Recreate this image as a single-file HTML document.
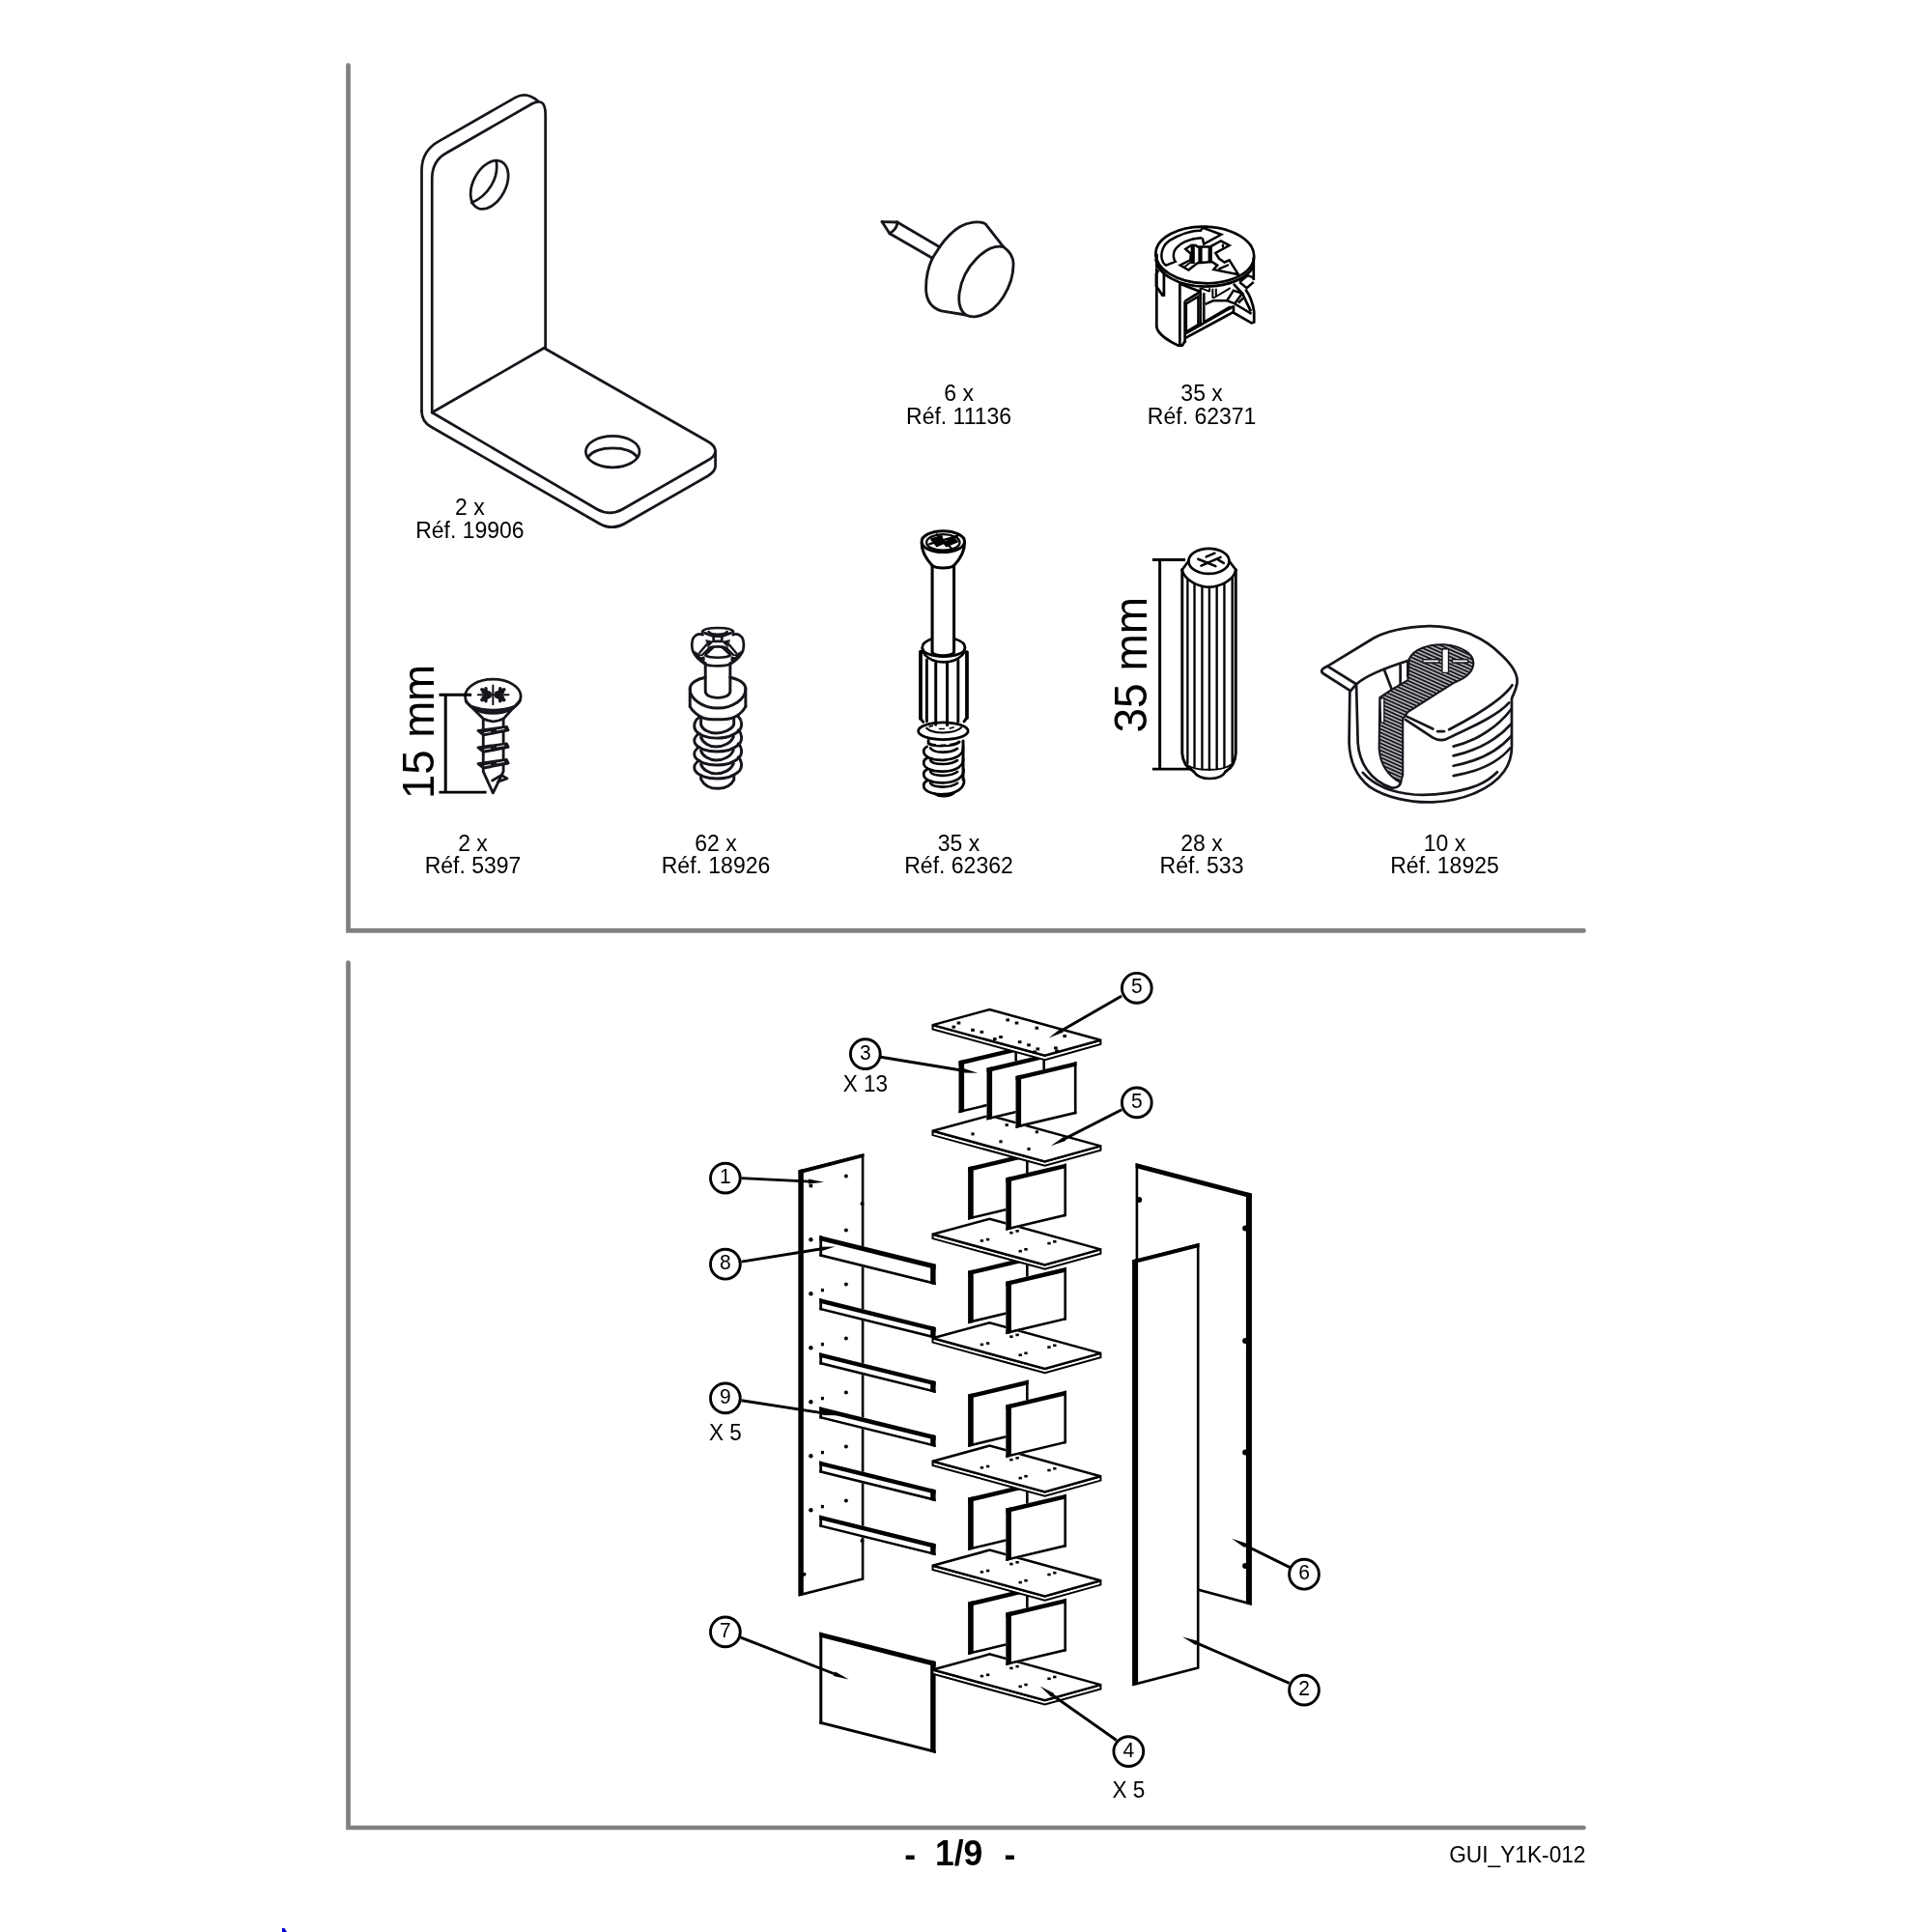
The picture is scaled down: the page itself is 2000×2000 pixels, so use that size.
<!DOCTYPE html>
<html><head><meta charset="utf-8"><title>1/9</title>
<style>
html,body{margin:0;padding:0;background:#fff;}
body{width:2000px;height:2000px;overflow:hidden;font-family:"Liberation Sans",sans-serif;}
svg{display:block;will-change:transform;}
text{font-family:"Liberation Sans",sans-serif;}
</style></head><body>
<svg width="2000" height="2000" viewBox="0 0 2000 2000">
<rect width="2000" height="2000" fill="#fff"/>
<!-- frame -->
<g fill="none" stroke="#808080" stroke-width="4.7" stroke-linecap="round" stroke-linejoin="miter">
<path d="M360.5 67.5 V963.4 H1639.5"/>
<path d="M360.5 996.6 V1892 H1639.5"/>
</g>
<path d="M292 1996 L294.5 1996 L297 2000 L292 2000 Z" fill="#0000d0"/>

<!-- text -->
<g fill="#000">
<text transform="translate(486.4,533) scale(1,1.035)" font-size="23" text-anchor="middle">2 x</text>
<text transform="translate(486.4,556.7) scale(1,1.035)" font-size="23" text-anchor="middle">Réf. 19906</text>
<text transform="translate(992.6,415) scale(1,1.035)" font-size="23" text-anchor="middle">6 x</text>
<text transform="translate(992.6,438.8) scale(1,1.035)" font-size="23" text-anchor="middle">Réf. 11136</text>
<text transform="translate(1244.1,415) scale(1,1.035)" font-size="23" text-anchor="middle">35 x</text>
<text transform="translate(1244.1,438.8) scale(1,1.035)" font-size="23" text-anchor="middle">Réf. 62371</text>
<text transform="translate(489.5,880.7) scale(1,1.035)" font-size="23" text-anchor="middle">2 x</text>
<text transform="translate(489.5,904) scale(1,1.035)" font-size="23" text-anchor="middle">Réf. 5397</text>
<text transform="translate(741,880.7) scale(1,1.035)" font-size="23" text-anchor="middle">62 x</text>
<text transform="translate(741,904) scale(1,1.035)" font-size="23" text-anchor="middle">Réf. 18926</text>
<text transform="translate(992.5,880.7) scale(1,1.035)" font-size="23" text-anchor="middle">35 x</text>
<text transform="translate(992.5,904) scale(1,1.035)" font-size="23" text-anchor="middle">Réf. 62362</text>
<text transform="translate(1244,880.7) scale(1,1.035)" font-size="23" text-anchor="middle">28 x</text>
<text transform="translate(1244,904) scale(1,1.035)" font-size="23" text-anchor="middle">Réf. 533</text>
<text transform="translate(1495.5,880.7) scale(1,1.035)" font-size="23" text-anchor="middle">10 x</text>
<text transform="translate(1495.5,904) scale(1,1.035)" font-size="23" text-anchor="middle">Réf. 18925</text>
<text transform="translate(449.3,827) rotate(-90) scale(1,1.03)" font-size="45.5">15 mm</text>
<text transform="translate(1186.7,758.5) rotate(-90) scale(1,1.03)" font-size="46">35 mm</text>
<text transform="translate(936.2,1931.5) scale(1,1.05)" font-size="35.5" text-anchor="start" font-weight="bold">-</text>
<text transform="translate(968.0,1930.8) scale(1,1.06)" font-size="35.5" text-anchor="start" font-weight="bold">1/9</text>
<text transform="translate(1039.5,1931.5) scale(1,1.05)" font-size="35.5" text-anchor="start" font-weight="bold">-</text>
<text transform="translate(1641.5,1927.6) scale(1,1.035)" font-size="22.7" text-anchor="end">GUI_Y1K-012</text>
</g>
<!-- bracket -->
<g transform="translate(340,40) scale(0.289855)" fill="none" stroke="#15151c" stroke-width="9.4" stroke-linecap="round" stroke-linejoin="round">
<!-- outer back edge -->
<path d="M333 1330 V470 Q333 400 395 366 L668 210 Q708 188 748 223"/>
<!-- front face -->
<path d="M370 1335 V500 Q370 436 422 408 L728 232 Q775 208 775 270 V1105"/>
<!-- fold lines -->
<path d="M770 1105 L370 1335"/>
<path d="M770 1105 L1352 1437 Q1381 1453 1382 1472 V1527 Q1381 1546 1355 1562 L1058 1732 Q1012 1758 966 1731 L366 1386 Q333 1368 333 1330"/>
<!-- top face of bottom plate -->
<path d="M370 1335 L960 1681 Q1005 1706 1050 1681 L1355 1506 Q1378 1493 1381 1478"/>
<!-- holes -->
<ellipse cx="575" cy="522" rx="93" ry="58" transform="rotate(-62 575 522)"/>
<path d="M600 440 C608 500 570 560 512 586"/>
<ellipse cx="1015" cy="1475" rx="96" ry="56"/>
<path d="M926 1495 C960 1452 1070 1452 1104 1495"/>
</g>

<!-- glide -->
<g transform="translate(900,210) scale(0.093168)" fill="none" stroke="#15151c" stroke-width="30.5" stroke-linecap="round" stroke-linejoin="round">
<path d="M140 210 L310 215 L780 490"/>
<path d="M140 210 L225 340 L700 615"/>
<path d="M310 215 Q310 290 225 340"/>
<path d="M780 490 L700 615"/>
<path d="M780 490 C850 390 930 310 1005 265 C1090 215 1225 195 1290 235 L1490 490 C1560 540 1600 600 1600 680 C1600 800 1560 930 1490 1040 C1420 1150 1310 1250 1170 1265 C1130 1268 1100 1260 1070 1245 L800 1200 C700 1170 640 1100 630 980 C625 860 650 720 700 615"/>
<path d="M1490 490 C1400 470 1290 520 1190 620 C1090 720 1020 860 1000 1000 C985 1110 1010 1200 1070 1245"/>
</g>

<!-- camhousing -->
<g transform="translate(1190,228) scale(0.062112)" fill="none" stroke="#000" stroke-width="44" stroke-linecap="butt" stroke-linejoin="miter">
<!-- top rim -->
<ellipse cx="922" cy="578" rx="820" ry="472" transform="rotate(2 922 578)"/>
<path d="M105 640 C130 900 480 1103 922 1103 C1280 1103 1600 990 1730 780"/>
<path d="M120 560 V800"/>
<path d="M1735 620 V1000"/>
<!-- arrow band -->
<path d="M870 168 C700 172 500 235 330 340 C215 420 180 560 210 660 C225 710 250 740 275 752 L430 690 C395 650 390 560 420 500 C480 400 650 300 870 292" stroke-width="40"/>
<path d="M870 168 V118 L1195 238 L905 395 L880 292" stroke-width="40"/>
<!-- centre H -->
<path d="M600 480 L700 415 L770 418 L800 442 L1010 442 L1190 345 L1330 420 L1100 545 L1160 640 L1250 700 L1330 665 L1480 905 L1070 820 L1130 750 L1040 692 L800 712 L650 830 L510 750 L680 660 L690 560 Z" stroke-width="40"/>
<path d="M720 430 V725 M845 440 V725 M1010 440 V705" stroke-width="68"/>
<path d="M1222 395 V455 M1150 815 L1320 740" stroke-width="36"/>
<path d="M580 780 L700 690" stroke-width="30"/>
<!-- body left -->
<path d="M118 800 V1780 C140 1900 330 2020 480 2088 L545 2088 L600 2000"/>
<path d="M150 830 L112 900 V1100 L215 1250 H240 V860" />
<!-- front cut -->
<path d="M505 1050 V2090"/>
<path d="M505 1060 L850 1190"/>
<path d="M590 1350 V2040 M590 1350 L835 1200"/>
<path d="M610 1392 L812 1272 V1740 L610 1860 Z" stroke-width="40"/>
<path d="M848 1130 V1765" stroke-width="40"/>
<path d="M600 1890 L1385 1440 M600 1962 L1400 1528"/>
<path d="M905 1210 V1700 L1345 1445"/>
<path d="M850 1130 L1000 1185 M1000 1130 V1195 M1052 1140 V1300 M1108 1140 V1270 M1060 1300 L1345 1130" stroke-width="32"/>
<path d="M930 1400 L1060 1342 H1290" stroke-width="40"/>
<!-- right tab and spike -->
<path d="M1500 1030 L1640 920 L1735 960 M1500 1030 L1620 1130 L1735 1030" stroke-width="40"/>
<path d="M1400 1060 L1545 1220 L1690 1520"/>
<path d="M1290 1340 L1400 1170 L1545 1220 L1420 1390 Z" stroke-width="40"/>
<path d="M1400 1420 V1540 L1700 1712 L1742 1700 V1520 C1720 1380 1680 1260 1600 1150"/>
<path d="M1420 1392 L1700 1560 M1480 1380 L1560 1300" stroke-width="40"/>
</g>

<!-- screw -->
<g transform="translate(400,660) scale(0.134575)" fill="none" stroke="#000" stroke-linecap="butt" stroke-linejoin="miter">
<g stroke="#15151c" stroke-width="21" stroke-linejoin="round" stroke-linecap="round">
<ellipse cx="820" cy="452" rx="214" ry="131"/>
<path d="M645 520 Q820 625 995 520 Q820 585 645 520 Z" fill="#15151c" stroke-width="8"/>
<path d="M612 492 L745 625 Q822 665 900 625 L1030 482"/>
<path d="M745 625 V1030 L820 1195 L900 1030 V625"/>
<path d="M706 716 L925 686 L937 712 L748 750 Z" fill="#15151c"/>
<path d="M706 846 L925 816 L937 842 L748 880 Z" fill="#15151c"/>
<path d="M706 970 L925 940 L937 966 L748 1004 Z" fill="#15151c"/>
<path d="M755 733 L800 726 M850 712 L905 703 M755 861 L800 854 M850 840 L905 831 M755 986 L800 979 M850 965 L905 956" stroke="#fff" stroke-width="7"/>
<path d="M815 1100 L885 1058 L928 1085 L860 1108" />
<!-- cross recess -->
<path d="M705 440 H940 M820 368 V515" stroke-width="15"/>
<path d="M735 400 L795 428 M735 480 L795 452 M905 400 L845 428 M905 480 L845 452 M765 392 V488 M875 392 V488 M745 420 L790 440 L745 462 M895 420 L850 440 L895 462" stroke-width="26"/>
</g>
<!-- dimension -->
<path d="M405 440 H655 M455 440 V1190 M405 1190 H770" stroke-width="22"/>
</g>

<!-- bolt18926 -->
<g transform="translate(680,630) scale(0.108696)" fill="none" stroke="#15151c" stroke-width="27" stroke-linecap="round" stroke-linejoin="round">
<!-- head -->
<g transform="translate(184,92) scale(0.42851)" stroke-width="58">
<path d="M585 300 C600 240 760 215 925 215 C1090 215 1250 240 1265 300"/>
<path d="M585 290 V365 M1265 290 V365"/>
<path d="M720 300 C780 380 1070 380 1130 300"/>
<path d="M585 365 C520 335 440 360 385 430 C340 500 340 640 370 730 C410 830 520 940 630 1010 C720 1075 1130 1075 1215 1010 C1330 940 1440 830 1480 730 C1510 640 1510 500 1465 430 C1410 360 1330 335 1265 365"/>
<path d="M830 400 H1015 V512 H830 Z"/>
<path d="M640 330 L830 400 M1210 330 L1015 400"/>
<path d="M665 485 L825 520 L705 640 Z M1185 485 L1020 520 L1145 640 Z" fill="#15151c" stroke-width="16"/>
<path d="M730 665 C800 620 1050 620 1125 670 M650 830 C760 890 1090 890 1200 830"/>
<path d="M830 640 L660 800 M1020 640 L1190 800"/>
<path d="M520 770 L670 590 M1330 770 L1180 590 M530 860 L720 680 M1320 860 L1130 680" stroke-width="50"/>
<path d="M370 720 L520 930 L625 1000 L630 870 L520 800 Z M1480 720 L1330 930 L1225 1000 L1220 870 L1330 800 Z" fill="#15151c" stroke-width="14"/>
<path d="M540 850 h40 M1270 850 h40" stroke="#fff" stroke-width="22"/>
</g>
<!-- neck -->
<path d="M462 520 V790 C470 870 690 870 698 790 V520"/>
<!-- collar + threads (traced) -->
<g transform="translate(184,828) scale(0.5239)" stroke-width="52">
<path d="M530 -330 C380 -300 250 -225 250 -120 V200 M980 -330 C1130 -300 1262 -225 1262 -120 V200"/>
<path d="M250 -120 C250 60 480 230 756 230 C1030 230 1262 60 1262 -120"/>
<path d="M250 200 C300 300 420 380 500 410 C600 445 900 445 1010 410 C1100 380 1210 300 1262 200"/>
<path d="M420 395 C340 440 310 540 345 620 C400 720 560 775 740 775 C920 775 1080 710 1160 620 C1200 560 1200 450 1130 385"/>
<path d="M450 410 V530 C480 620 600 685 720 685 C860 685 1010 620 1048 530 V410"/>
<path d="M420 690 C340 735 310 805 345 875 C400 965 560 1020 740 1020 C920 1020 1080 955 1160 865 C1200 805 1200 695 1130 630"/>
<path d="M450 760 C480 855 600 930 720 930 C860 930 1000 865 1042 745"/>
<path d="M420 935 C340 980 310 1050 345 1120 C400 1210 560 1265 740 1265 C920 1265 1080 1200 1160 1110 C1200 1050 1200 940 1130 875"/>
<path d="M450 1005 C480 1100 600 1175 720 1175 C860 1175 1000 1110 1042 990"/>
<path d="M420 1180 C340 1225 310 1295 345 1365 C400 1455 560 1510 740 1510 C920 1510 1080 1445 1160 1355 C1200 1295 1200 1185 1130 1120"/>
<path d="M450 1250 C480 1345 600 1420 720 1420 C860 1420 1000 1355 1042 1235"/>
<path d="M450 1450 V1520 C500 1620 600 1692 760 1692 C900 1692 1010 1620 1050 1530 V1455"/>
</g>
</g>

<!-- bolt62362 -->
<g transform="translate(920,530) scale(0.165631)" fill="none" stroke="#000" stroke-width="18.5" stroke-linecap="round" stroke-linejoin="round">
<!-- head -->
<ellipse cx="340" cy="185" rx="134" ry="66"/>
<ellipse cx="340" cy="190" rx="104" ry="50" stroke-width="14"/>
<path d="M206 195 C206 240 225 285 272 335 M474 195 C474 240 455 285 408 335"/>

<path d="M272 335 C300 355 380 355 408 335"/>
<!-- cross on head -->
<path d="M265 170 L330 150 L345 195 L300 215 Z M345 195 L400 160 L430 185 L360 215 Z" fill="#000" stroke-width="10"/>
<path d="M255 200 L430 150 M300 140 L390 225" stroke-width="13"/>
<!-- shaft -->
<path d="M272 340 V878 C290 906 390 906 408 878 V340"/>
</g>
<g transform="translate(940,650) scale(0.09833)" fill="none" stroke="#000" stroke-width="27" stroke-linecap="round" stroke-linejoin="round">
<!-- sleeve top -->
<path d="M245 118 C190 138 150 170 150 208 C150 262 250 302 375 302 C500 302 600 262 600 208 C600 170 560 138 495 118"/>
<path d="M150 208 C152 240 162 265 180 285 C230 338 300 360 375 360 C450 360 520 338 570 285 C588 265 598 240 600 208" stroke-width="26"/>
<path d="M132 250 V955 M620 255 V945" stroke-width="38"/>
<path d="M150 250 L180 285 M600 250 L572 285" stroke-width="22"/>
<path d="M197 335 V985 M292 372 V1020 M412 372 V1025 M527 340 V990" stroke-width="30"/>
<path d="M132 955 L160 990 M620 945 L590 985" stroke-width="30"/>
<!-- flange -->
<ellipse cx="370" cy="1085" rx="262" ry="90" stroke-width="28"/>
<path d="M195 1055 C260 1120 480 1120 560 1050" stroke-width="22"/>
<path d="M225 1040 L260 1030 M330 1062 H380 M440 1058 L480 1048" stroke-width="16"/>
<!-- coils -->
<path d="M215 1185 V1215 C260 1250 480 1250 540 1200 M580 1190 V1600" stroke-width="30"/>
<path d="M300 1225 H340 M400 1225 H430" stroke="#fff" stroke-width="10"/>
<path d="M200 1250 C150 1275 150 1330 215 1365 C300 1405 450 1400 530 1350 C570 1322 585 1290 580 1250"/>
<path d="M235 1265 C270 1320 440 1325 520 1270"/>
<path d="M200 1370 C150 1395 150 1450 215 1485 C300 1525 450 1520 530 1470 C570 1442 585 1410 580 1370"/>
<path d="M235 1395 C270 1445 440 1450 520 1395"/>
<path d="M200 1490 C150 1515 150 1570 215 1605 C300 1645 450 1640 530 1590 C570 1562 590 1530 585 1490"/>
<path d="M235 1515 C270 1565 440 1570 520 1515"/>
<path d="M200 1610 C150 1635 150 1690 215 1725 C300 1765 450 1760 530 1710 C570 1682 595 1650 590 1600"/>
<path d="M235 1635 C270 1685 440 1690 520 1635"/>
<path d="M280 1745 C330 1780 420 1780 480 1740" stroke-width="30"/>
</g>

<!-- dowel -->
<g transform="translate(1130,550) scale(0.15528)" fill="none" stroke="#000" stroke-linecap="butt" stroke-linejoin="round">
<path d="M405 190 H625 M455 190 V1585 M405 1585 H670" stroke-width="19"/>
<g stroke="#000" stroke-width="17" stroke-linecap="round">
<!-- top ellipse -->
<ellipse cx="782" cy="199" rx="135" ry="84"/>
<path d="M648 196 L604 256 M916 196 L961 256"/>
<path d="M603 258 C620 330 720 372 782 372 C850 372 945 330 962 258"/>
<!-- sides -->
<path d="M604 256 V1480 C608 1540 640 1580 680 1600 M961 256 V1480 C957 1540 930 1580 895 1600" stroke-width="19"/>
<path d="M680 1600 C720 1665 860 1665 895 1600"/>
<path d="M640 1560 C700 1600 870 1600 930 1555" stroke-width="12"/>
<!-- ribs -->
<path d="M640 322 V1545 M686 350 V1570 M737 366 V1585 M785 372 V1590 M835 368 V1585 M885 352 V1572 M938 310 V1540" stroke-width="15"/>
<!-- cross -->
<path d="M710 185 L827 233 M731 230 L860 173 M764 170 L821 146 M845 191 L881 212" stroke-width="16"/>
</g>
</g>

<!-- cam18925 -->
<defs>
<pattern id="hatch" width="26" height="26" patternUnits="userSpaceOnUse" patternTransform="rotate(24)">
<rect width="26" height="26" fill="#15151c"/>
<path d="M0 13 H26" stroke="#fff" stroke-width="8.5"/>
</pattern>
</defs>
<g transform="translate(1350,620) scale(0.1294)" fill="none" stroke="#15151c" stroke-width="21" stroke-linecap="round" stroke-linejoin="round">
<!-- outer top edge -->
<path d="M188 538 L557 313 C640 265 800 222 1000 217 C1200 214 1420 290 1570 440 C1680 540 1720 620 1700 690"/>
<!-- lip -->
<path d="M188 538 Q120 565 150 595 L370 735"/>
<path d="M190 540 L418 682 L372 735"/>
<!-- inner top edge of opening -->
<path d="M418 682 C500 610 640 555 830 495"/>
<path d="M640 565 L700 720 M770 530 V690 M830 495 V620"/>
<!-- left outer side + bottom -->
<path d="M366 735 L360 1150 C365 1300 420 1420 520 1500 C650 1590 850 1632 1030 1626 C1280 1615 1500 1520 1600 1380 C1650 1310 1665 1230 1661 1150 V800 C1668 770 1692 740 1700 690"/>
<path d="M418 690 L430 1150 C440 1300 520 1450 700 1512 C740 1515 770 1495 775 1460"/>

<path d="M470 1390 C560 1490 700 1550 880 1565 C1050 1575 1250 1545 1390 1490 C1460 1460 1510 1420 1545 1385"/>
<!-- hatched region -->
<path d="M840 480 C880 400 1000 360 1120 365 C1260 375 1360 440 1355 520 C1350 590 1280 640 1200 670 L830 905 L790 960 V1410 L770 1470 C680 1420 610 1330 600 1200 L605 790 L700 725 L830 650 Z" fill="url(#hatch)" stroke-width="16"/>
<path d="M1105 400 h50 v190 h-50 z M950 485 h130 v25 h-130 z M1185 485 h125 v25 h-125 z" fill="#fff" stroke-width="10"/>
<path d="M610 800 L640 790 V990 H615 Z" fill="#fff" stroke-width="10"/>
<!-- top face lower right edge -->
<path d="M1665 690 C1600 790 1400 920 1160 1045"/>
<path d="M1068 1060 H1120"/>
<path d="M1030 1040 L820 940"/>
<path d="M810 965 L1030 1110 C1090 1145 1130 1130 1165 1108 C1400 1000 1560 920 1640 830"/>

<!-- threads -->
<path d="M1195 1180 C1400 1130 1560 1010 1655 885"/>
<path d="M1195 1255 C1400 1210 1560 1110 1655 1002"/>
<path d="M1195 1335 C1400 1295 1560 1210 1655 1098"/>
<path d="M1195 1415 C1400 1380 1560 1300 1648 1194"/>
</g>

<!-- diagram -->
<g stroke-linejoin="miter">
<path d="M827.9 1212.8 L893.1 1195.7 L893.1 1634.4 L827.9 1651.1 Z" fill="#fff" stroke="#000" stroke-width="2.6" />
<path d="M826.6 1211.3 L831.8 1210 L831.8 1651 L826.6 1652.3 Z" fill="#000" stroke="none"/>
<path d="M826.6 1211.3 L894.4 1194.2 L894.4 1197.8 L826.6 1215.5 Z" fill="#000" stroke="none"/>
<circle cx="875.9" cy="1217.5" r="2.0" fill="#000"/>
<circle cx="875.9" cy="1273.5" r="2.0" fill="#000"/>
<circle cx="875.9" cy="1329.5" r="2.0" fill="#000"/>
<circle cx="875.9" cy="1385.5" r="2.0" fill="#000"/>
<circle cx="875.9" cy="1441.5" r="2.0" fill="#000"/>
<circle cx="875.9" cy="1497.5" r="2.0" fill="#000"/>
<circle cx="875.9" cy="1553.5" r="2.0" fill="#000"/>
<circle cx="839.4" cy="1283.2" r="2.2" fill="#000"/>
<circle cx="839.4" cy="1339.2" r="2.2" fill="#000"/>
<circle cx="839.4" cy="1395.2" r="2.2" fill="#000"/>
<circle cx="839.4" cy="1451.2" r="2.2" fill="#000"/>
<circle cx="839.4" cy="1507.2" r="2.2" fill="#000"/>
<circle cx="839.4" cy="1563.2" r="2.2" fill="#000"/>
<rect x="849.9" y="1333.9" width="3" height="3.4" fill="#000"/>
<rect x="849.9" y="1389.9" width="3" height="3.4" fill="#000"/>
<rect x="849.9" y="1445.9" width="3" height="3.4" fill="#000"/>
<rect x="849.9" y="1501.9" width="3" height="3.4" fill="#000"/>
<rect x="849.9" y="1557.9" width="3" height="3.4" fill="#000"/>
<circle cx="892.5" cy="1246" r="2.0" fill="#000"/>
<circle cx="892.5" cy="1594.9" r="2.0" fill="#000"/>
<circle cx="832.5" cy="1629.8" r="2.0" fill="#000"/>
<rect x="837.6" y="1225.7" width="3.6" height="3.6" fill="#000"/>
<path d="M848.3 1278.9 L968.6 1308.7 L968.6 1330.3 L848.3 1300.5 Z" fill="#fff" stroke="none"/>
<path d="M848.3 1278.9 L968.6 1308.7 L968.6 1313.9 L848.3 1284.1 Z" fill="#000" stroke="none"/>
<path d="M963.2 1307.4 L968.6 1308.7 L968.6 1330.3 L963.2 1329 Z" fill="#000" stroke="none"/>
<path d="M848.3 1278.9 L851.1 1279.6 L851.1 1301.2 L848.3 1300.5 Z" fill="#000" stroke="none"/>
<path d="M848.3 1297.7 L968.6 1327.5 L968.6 1330.3 L848.3 1300.5 Z" fill="#000" stroke="none"/>
<path d="M848.3 1344.1 L968.6 1373.9 L968.6 1385.9 L848.3 1356.1 Z" fill="#fff" stroke="none"/>
<path d="M848.3 1344.1 L968.6 1373.9 L968.6 1378.5 L848.3 1348.7 Z" fill="#000" stroke="none"/>
<path d="M963.2 1372.6 L968.6 1373.9 L968.6 1385.9 L963.2 1384.6 Z" fill="#000" stroke="none"/>
<path d="M848.3 1344.1 L851.1 1344.8 L851.1 1356.8 L848.3 1356.1 Z" fill="#000" stroke="none"/>
<path d="M848.3 1353.5 L968.6 1383.3 L968.6 1385.9 L848.3 1356.1 Z" fill="#000" stroke="none"/>
<path d="M848.3 1400.2 L968.6 1430 L968.6 1442 L848.3 1412.2 Z" fill="#fff" stroke="none"/>
<path d="M848.3 1400.2 L968.6 1430 L968.6 1434.6 L848.3 1404.8 Z" fill="#000" stroke="none"/>
<path d="M963.2 1428.7 L968.6 1430 L968.6 1442 L963.2 1440.7 Z" fill="#000" stroke="none"/>
<path d="M848.3 1400.2 L851.1 1400.9 L851.1 1412.9 L848.3 1412.2 Z" fill="#000" stroke="none"/>
<path d="M848.3 1409.6 L968.6 1439.4 L968.6 1442 L848.3 1412.2 Z" fill="#000" stroke="none"/>
<path d="M848.3 1456.3 L968.6 1486.1 L968.6 1498.1 L848.3 1468.3 Z" fill="#fff" stroke="none"/>
<path d="M848.3 1456.3 L968.6 1486.1 L968.6 1490.7 L848.3 1460.9 Z" fill="#000" stroke="none"/>
<path d="M963.2 1484.8 L968.6 1486.1 L968.6 1498.1 L963.2 1496.8 Z" fill="#000" stroke="none"/>
<path d="M848.3 1456.3 L851.1 1457 L851.1 1469 L848.3 1468.3 Z" fill="#000" stroke="none"/>
<path d="M848.3 1465.7 L968.6 1495.5 L968.6 1498.1 L848.3 1468.3 Z" fill="#000" stroke="none"/>
<path d="M848.3 1512.4 L968.6 1542.2 L968.6 1554.2 L848.3 1524.4 Z" fill="#fff" stroke="none"/>
<path d="M848.3 1512.4 L968.6 1542.2 L968.6 1546.8 L848.3 1517 Z" fill="#000" stroke="none"/>
<path d="M963.2 1540.9 L968.6 1542.2 L968.6 1554.2 L963.2 1552.9 Z" fill="#000" stroke="none"/>
<path d="M848.3 1512.4 L851.1 1513.1 L851.1 1525.1 L848.3 1524.4 Z" fill="#000" stroke="none"/>
<path d="M848.3 1521.8 L968.6 1551.6 L968.6 1554.2 L848.3 1524.4 Z" fill="#000" stroke="none"/>
<path d="M848.3 1568.5 L968.6 1598.3 L968.6 1610.3 L848.3 1580.5 Z" fill="#fff" stroke="none"/>
<path d="M848.3 1568.5 L968.6 1598.3 L968.6 1602.9 L848.3 1573.1 Z" fill="#000" stroke="none"/>
<path d="M963.2 1597 L968.6 1598.3 L968.6 1610.3 L963.2 1609 Z" fill="#000" stroke="none"/>
<path d="M848.3 1568.5 L851.1 1569.2 L851.1 1581.2 L848.3 1580.5 Z" fill="#000" stroke="none"/>
<path d="M848.3 1577.9 L968.6 1607.7 L968.6 1610.3 L848.3 1580.5 Z" fill="#000" stroke="none"/>
<path d="M848.3 1689.4 L968.6 1720 L968.6 1815 L848.3 1784.4 Z" fill="#fff" stroke="none"/>
<path d="M848.3 1689.4 L968.6 1720 L968.6 1725.2 L848.3 1694.6 Z" fill="#000" stroke="none"/>
<path d="M963.2 1718.6 L968.6 1720 L968.6 1815 L963.2 1813.6 Z" fill="#000" stroke="none"/>
<path d="M848.3 1689.4 L851.3 1690.2 L851.3 1785.2 L848.3 1784.4 Z" fill="#000" stroke="none"/>
<path d="M848.3 1781.4 L968.6 1812 L968.6 1815 L848.3 1784.4 Z" fill="#000" stroke="none"/>
<path d="M965.5 1728.5 L1081.6 1760.2 L1139.4 1744.1 L1139.4 1748.4 L1081.6 1764.5 L965.5 1732.8 Z" fill="#fff" stroke="#000" stroke-width="2.0" stroke-miterlimit="2"/>
<path d="M965.5 1728.5 L1024.5 1712.4 L1139.4 1744.1 L1081.6 1760.2 Z" fill="#fff" stroke="#000" stroke-width="2.5" stroke-miterlimit="2"/>
<rect x="1045.2" y="1725.6" width="3.4" height="2.6" fill="#000"/>
<rect x="1051.4" y="1723.8" width="3.4" height="2.6" fill="#000"/>
<rect x="1014.7" y="1733.8" width="3.4" height="2.6" fill="#000"/>
<rect x="1020.9" y="1732.5" width="3.4" height="2.6" fill="#000"/>
<rect x="1084.3" y="1736.5" width="3.4" height="2.6" fill="#000"/>
<rect x="1090.1" y="1734.7" width="3.4" height="2.6" fill="#000"/>
<rect x="1054.5" y="1744.6" width="3.4" height="2.6" fill="#000"/>
<rect x="1060.3" y="1742.7" width="3.4" height="2.6" fill="#000"/>
<path d="M1002.1 1658.6 L1064.6 1643.7 L1064.6 1698.2 L1002.1 1713.1 Z" fill="#fff" stroke="none"/>
<path d="M1002.1 1658.6 L1007.7 1657.3 L1007.7 1711.8 L1002.1 1713.1 Z" fill="#000" stroke="none"/>
<path d="M1002.1 1658.6 L1064.6 1643.7 L1064.6 1648.3 L1002.1 1663.2 Z" fill="#000" stroke="none"/>
<path d="M1062 1644.3 L1064.6 1643.7 L1064.6 1698.2 L1062 1698.8 Z" fill="#000" stroke="none"/>
<path d="M1002.1 1710.5 L1064.6 1695.6 L1064.6 1698.2 L1002.1 1713.1 Z" fill="#000" stroke="none"/>
<path d="M1041.3 1669.6 L1104 1654.7 L1104 1709.2 L1041.3 1724.1 Z" fill="#fff" stroke="none"/>
<path d="M1041.3 1669.6 L1046.9 1668.3 L1046.9 1722.8 L1041.3 1724.1 Z" fill="#000" stroke="none"/>
<path d="M1041.3 1669.6 L1104 1654.7 L1104 1659.3 L1041.3 1674.2 Z" fill="#000" stroke="none"/>
<path d="M1101.4 1655.3 L1104 1654.7 L1104 1709.2 L1101.4 1709.8 Z" fill="#000" stroke="none"/>
<path d="M1041.3 1721.5 L1104 1706.6 L1104 1709.2 L1041.3 1724.1 Z" fill="#000" stroke="none"/>
<path d="M965.5 1620.7 L1081.6 1652.4 L1139.4 1636.3 L1139.4 1640.6 L1081.6 1656.7 L965.5 1625 Z" fill="#fff" stroke="#000" stroke-width="2.0" stroke-miterlimit="2"/>
<path d="M965.5 1620.7 L1024.5 1604.6 L1139.4 1636.3 L1081.6 1652.4 Z" fill="#fff" stroke="#000" stroke-width="2.5" stroke-miterlimit="2"/>
<rect x="1045.2" y="1617.8" width="3.4" height="2.6" fill="#000"/>
<rect x="1051.4" y="1616" width="3.4" height="2.6" fill="#000"/>
<rect x="1014.7" y="1626" width="3.4" height="2.6" fill="#000"/>
<rect x="1020.9" y="1624.7" width="3.4" height="2.6" fill="#000"/>
<rect x="1084.3" y="1628.7" width="3.4" height="2.6" fill="#000"/>
<rect x="1090.1" y="1626.9" width="3.4" height="2.6" fill="#000"/>
<rect x="1054.5" y="1636.8" width="3.4" height="2.6" fill="#000"/>
<rect x="1060.3" y="1634.9" width="3.4" height="2.6" fill="#000"/>
<path d="M1002.1 1550.6 L1064.6 1535.7 L1064.6 1590.2 L1002.1 1605.1 Z" fill="#fff" stroke="none"/>
<path d="M1002.1 1550.6 L1007.7 1549.3 L1007.7 1603.8 L1002.1 1605.1 Z" fill="#000" stroke="none"/>
<path d="M1002.1 1550.6 L1064.6 1535.7 L1064.6 1540.3 L1002.1 1555.2 Z" fill="#000" stroke="none"/>
<path d="M1062 1536.3 L1064.6 1535.7 L1064.6 1590.2 L1062 1590.8 Z" fill="#000" stroke="none"/>
<path d="M1002.1 1602.5 L1064.6 1587.6 L1064.6 1590.2 L1002.1 1605.1 Z" fill="#000" stroke="none"/>
<path d="M1041.3 1561.6 L1104 1546.7 L1104 1601.2 L1041.3 1616.1 Z" fill="#fff" stroke="none"/>
<path d="M1041.3 1561.6 L1046.9 1560.3 L1046.9 1614.8 L1041.3 1616.1 Z" fill="#000" stroke="none"/>
<path d="M1041.3 1561.6 L1104 1546.7 L1104 1551.3 L1041.3 1566.2 Z" fill="#000" stroke="none"/>
<path d="M1101.4 1547.3 L1104 1546.7 L1104 1601.2 L1101.4 1601.8 Z" fill="#000" stroke="none"/>
<path d="M1041.3 1613.5 L1104 1598.6 L1104 1601.2 L1041.3 1616.1 Z" fill="#000" stroke="none"/>
<path d="M965.5 1512.7 L1081.6 1544.4 L1139.4 1528.3 L1139.4 1532.6 L1081.6 1548.7 L965.5 1517 Z" fill="#fff" stroke="#000" stroke-width="2.0" stroke-miterlimit="2"/>
<path d="M965.5 1512.7 L1024.5 1496.6 L1139.4 1528.3 L1081.6 1544.4 Z" fill="#fff" stroke="#000" stroke-width="2.5" stroke-miterlimit="2"/>
<rect x="1045.2" y="1509.8" width="3.4" height="2.6" fill="#000"/>
<rect x="1051.4" y="1508" width="3.4" height="2.6" fill="#000"/>
<rect x="1014.7" y="1518" width="3.4" height="2.6" fill="#000"/>
<rect x="1020.9" y="1516.7" width="3.4" height="2.6" fill="#000"/>
<rect x="1084.3" y="1520.7" width="3.4" height="2.6" fill="#000"/>
<rect x="1090.1" y="1518.9" width="3.4" height="2.6" fill="#000"/>
<rect x="1054.5" y="1528.8" width="3.4" height="2.6" fill="#000"/>
<rect x="1060.3" y="1526.9" width="3.4" height="2.6" fill="#000"/>
<path d="M1002.1 1443.5 L1064.6 1428.6 L1064.6 1483.1 L1002.1 1498 Z" fill="#fff" stroke="none"/>
<path d="M1002.1 1443.5 L1007.7 1442.2 L1007.7 1496.7 L1002.1 1498 Z" fill="#000" stroke="none"/>
<path d="M1002.1 1443.5 L1064.6 1428.6 L1064.6 1433.2 L1002.1 1448.1 Z" fill="#000" stroke="none"/>
<path d="M1062 1429.2 L1064.6 1428.6 L1064.6 1483.1 L1062 1483.7 Z" fill="#000" stroke="none"/>
<path d="M1002.1 1495.4 L1064.6 1480.5 L1064.6 1483.1 L1002.1 1498 Z" fill="#000" stroke="none"/>
<path d="M1041.3 1454.5 L1104 1439.6 L1104 1494.1 L1041.3 1509 Z" fill="#fff" stroke="none"/>
<path d="M1041.3 1454.5 L1046.9 1453.2 L1046.9 1507.7 L1041.3 1509 Z" fill="#000" stroke="none"/>
<path d="M1041.3 1454.5 L1104 1439.6 L1104 1444.2 L1041.3 1459.1 Z" fill="#000" stroke="none"/>
<path d="M1101.4 1440.2 L1104 1439.6 L1104 1494.1 L1101.4 1494.7 Z" fill="#000" stroke="none"/>
<path d="M1041.3 1506.4 L1104 1491.5 L1104 1494.1 L1041.3 1509 Z" fill="#000" stroke="none"/>
<path d="M965.5 1385.3 L1081.6 1417 L1139.4 1400.9 L1139.4 1405.2 L1081.6 1421.3 L965.5 1389.6 Z" fill="#fff" stroke="#000" stroke-width="2.0" stroke-miterlimit="2"/>
<path d="M965.5 1385.3 L1024.5 1369.2 L1139.4 1400.9 L1081.6 1417 Z" fill="#fff" stroke="#000" stroke-width="2.5" stroke-miterlimit="2"/>
<rect x="1045.2" y="1382.4" width="3.4" height="2.6" fill="#000"/>
<rect x="1051.4" y="1380.6" width="3.4" height="2.6" fill="#000"/>
<rect x="1014.7" y="1390.6" width="3.4" height="2.6" fill="#000"/>
<rect x="1020.9" y="1389.3" width="3.4" height="2.6" fill="#000"/>
<rect x="1084.3" y="1393.3" width="3.4" height="2.6" fill="#000"/>
<rect x="1090.1" y="1391.5" width="3.4" height="2.6" fill="#000"/>
<rect x="1054.5" y="1401.4" width="3.4" height="2.6" fill="#000"/>
<rect x="1060.3" y="1399.5" width="3.4" height="2.6" fill="#000"/>
<path d="M1002.1 1315.7 L1064.6 1300.8 L1064.6 1355.3 L1002.1 1370.2 Z" fill="#fff" stroke="none"/>
<path d="M1002.1 1315.7 L1007.7 1314.4 L1007.7 1368.9 L1002.1 1370.2 Z" fill="#000" stroke="none"/>
<path d="M1002.1 1315.7 L1064.6 1300.8 L1064.6 1305.4 L1002.1 1320.3 Z" fill="#000" stroke="none"/>
<path d="M1062 1301.4 L1064.6 1300.8 L1064.6 1355.3 L1062 1355.9 Z" fill="#000" stroke="none"/>
<path d="M1002.1 1367.6 L1064.6 1352.7 L1064.6 1355.3 L1002.1 1370.2 Z" fill="#000" stroke="none"/>
<path d="M1041.3 1326.7 L1104 1311.8 L1104 1366.3 L1041.3 1381.2 Z" fill="#fff" stroke="none"/>
<path d="M1041.3 1326.7 L1046.9 1325.4 L1046.9 1379.9 L1041.3 1381.2 Z" fill="#000" stroke="none"/>
<path d="M1041.3 1326.7 L1104 1311.8 L1104 1316.4 L1041.3 1331.3 Z" fill="#000" stroke="none"/>
<path d="M1101.4 1312.4 L1104 1311.8 L1104 1366.3 L1101.4 1366.9 Z" fill="#000" stroke="none"/>
<path d="M1041.3 1378.6 L1104 1363.7 L1104 1366.3 L1041.3 1381.2 Z" fill="#000" stroke="none"/>
<path d="M965.5 1277.8 L1081.6 1309.5 L1139.4 1293.4 L1139.4 1297.7 L1081.6 1313.8 L965.5 1282.1 Z" fill="#fff" stroke="#000" stroke-width="2.0" stroke-miterlimit="2"/>
<path d="M965.5 1277.8 L1024.5 1261.7 L1139.4 1293.4 L1081.6 1309.5 Z" fill="#fff" stroke="#000" stroke-width="2.5" stroke-miterlimit="2"/>
<rect x="1045.2" y="1274.9" width="3.4" height="2.6" fill="#000"/>
<rect x="1051.4" y="1273.1" width="3.4" height="2.6" fill="#000"/>
<rect x="1014.7" y="1283.1" width="3.4" height="2.6" fill="#000"/>
<rect x="1020.9" y="1281.8" width="3.4" height="2.6" fill="#000"/>
<rect x="1084.3" y="1285.8" width="3.4" height="2.6" fill="#000"/>
<rect x="1090.1" y="1284" width="3.4" height="2.6" fill="#000"/>
<rect x="1054.5" y="1293.9" width="3.4" height="2.6" fill="#000"/>
<rect x="1060.3" y="1292" width="3.4" height="2.6" fill="#000"/>
<path d="M1002.1 1208.3 L1064.6 1193.4 L1064.6 1247.9 L1002.1 1262.8 Z" fill="#fff" stroke="none"/>
<path d="M1002.1 1208.3 L1007.7 1207 L1007.7 1261.5 L1002.1 1262.8 Z" fill="#000" stroke="none"/>
<path d="M1002.1 1208.3 L1064.6 1193.4 L1064.6 1198 L1002.1 1212.9 Z" fill="#000" stroke="none"/>
<path d="M1062 1194 L1064.6 1193.4 L1064.6 1247.9 L1062 1248.5 Z" fill="#000" stroke="none"/>
<path d="M1002.1 1260.2 L1064.6 1245.3 L1064.6 1247.9 L1002.1 1262.8 Z" fill="#000" stroke="none"/>
<path d="M1041.3 1219.3 L1104 1204.4 L1104 1258.9 L1041.3 1273.8 Z" fill="#fff" stroke="none"/>
<path d="M1041.3 1219.3 L1046.9 1218 L1046.9 1272.5 L1041.3 1273.8 Z" fill="#000" stroke="none"/>
<path d="M1041.3 1219.3 L1104 1204.4 L1104 1209 L1041.3 1223.9 Z" fill="#000" stroke="none"/>
<path d="M1101.4 1205 L1104 1204.4 L1104 1258.9 L1101.4 1259.5 Z" fill="#000" stroke="none"/>
<path d="M1041.3 1271.2 L1104 1256.3 L1104 1258.9 L1041.3 1273.8 Z" fill="#000" stroke="none"/>
<path d="M965.5 1170.8 L1081.6 1202.5 L1139.4 1186.4 L1139.4 1190.7 L1081.6 1206.8 L965.5 1175.1 Z" fill="#fff" stroke="#000" stroke-width="2.0" stroke-miterlimit="2"/>
<path d="M965.5 1170.8 L1024.5 1154.7 L1139.4 1186.4 L1081.6 1202.5 Z" fill="#fff" stroke="#000" stroke-width="2.5" stroke-miterlimit="2"/>
<rect x="1040.6" y="1163.1" width="3.2" height="3.0" fill="#000"/>
<rect x="1005.4" y="1172.4" width="3.2" height="3.0" fill="#000"/>
<rect x="1071.7" y="1170.3" width="3.2" height="3.0" fill="#000"/>
<rect x="1034.4" y="1180.3" width="3.2" height="3.0" fill="#000"/>
<rect x="1063.4" y="1187.9" width="3.2" height="3.0" fill="#000"/>
<path d="M992.5 1098.3 L1053 1083.9 L1053 1137.9 L992.5 1152.3 Z" fill="#fff" stroke="none"/>
<path d="M992.5 1098.3 L998.1 1097 L998.1 1151 L992.5 1152.3 Z" fill="#000" stroke="none"/>
<path d="M992.5 1098.3 L1053 1083.9 L1053 1088.5 L992.5 1102.9 Z" fill="#000" stroke="none"/>
<path d="M1050.4 1084.5 L1053 1083.9 L1053 1137.9 L1050.4 1138.5 Z" fill="#000" stroke="none"/>
<path d="M992.5 1149.7 L1053 1135.3 L1053 1137.9 L992.5 1152.3 Z" fill="#000" stroke="none"/>
<path d="M1021.5 1105.6 L1082 1091.2 L1082 1145.2 L1021.5 1159.6 Z" fill="#fff" stroke="none"/>
<path d="M1021.5 1105.6 L1027.1 1104.3 L1027.1 1158.3 L1021.5 1159.6 Z" fill="#000" stroke="none"/>
<path d="M1021.5 1105.6 L1082 1091.2 L1082 1095.8 L1021.5 1110.2 Z" fill="#000" stroke="none"/>
<path d="M1079.4 1091.8 L1082 1091.2 L1082 1145.2 L1079.4 1145.8 Z" fill="#000" stroke="none"/>
<path d="M1021.5 1157 L1082 1142.6 L1082 1145.2 L1021.5 1159.6 Z" fill="#000" stroke="none"/>
<path d="M1051.5 1113.9 L1114.5 1098.9 L1114.5 1152.9 L1051.5 1167.9 Z" fill="#fff" stroke="none"/>
<path d="M1051.5 1113.9 L1057.1 1112.6 L1057.1 1166.6 L1051.5 1167.9 Z" fill="#000" stroke="none"/>
<path d="M1051.5 1113.9 L1114.5 1098.9 L1114.5 1103.5 L1051.5 1118.5 Z" fill="#000" stroke="none"/>
<path d="M1111.9 1099.5 L1114.5 1098.9 L1114.5 1152.9 L1111.9 1153.5 Z" fill="#000" stroke="none"/>
<path d="M1051.5 1165.3 L1114.5 1150.3 L1114.5 1152.9 L1051.5 1167.9 Z" fill="#000" stroke="none"/>
<path d="M965.5 1061.1 L1081.6 1092.8 L1139.4 1076.7 L1139.4 1081 L1081.6 1097.1 L965.5 1065.4 Z" fill="#fff" stroke="#000" stroke-width="2.0" stroke-miterlimit="2"/>
<path d="M965.5 1061.1 L1024.5 1045 L1139.4 1076.7 L1081.6 1092.8 Z" fill="#fff" stroke="#000" stroke-width="2.5" stroke-miterlimit="2"/>
<rect x="990.7" y="1057.5" width="3.6" height="3.0" fill="#000"/>
<rect x="985.5" y="1061.6" width="3.6" height="3.0" fill="#000"/>
<rect x="1041.4" y="1054.4" width="3.6" height="3.0" fill="#000"/>
<rect x="1050.7" y="1057.5" width="3.6" height="3.0" fill="#000"/>
<rect x="1005.2" y="1064.8" width="3.6" height="3.0" fill="#000"/>
<rect x="1014.5" y="1066.8" width="3.6" height="3.0" fill="#000"/>
<rect x="1071.5" y="1062.7" width="3.6" height="3.0" fill="#000"/>
<rect x="1034.2" y="1072" width="3.6" height="3.0" fill="#000"/>
<rect x="1028" y="1074.1" width="3.6" height="3.0" fill="#000"/>
<rect x="1053.9" y="1077.2" width="3.6" height="3.0" fill="#000"/>
<rect x="1063.2" y="1080.3" width="3.6" height="3.0" fill="#000"/>
<rect x="1100.4" y="1071" width="3.6" height="3.0" fill="#000"/>
<rect x="1072.5" y="1084.4" width="3.6" height="3.0" fill="#000"/>
<rect x="1069.4" y="1087.5" width="3.6" height="3.0" fill="#000"/>
<rect x="1091.1" y="1083.4" width="3.6" height="3.0" fill="#000"/>
<rect x="1092.2" y="1086.5" width="3.6" height="3.0" fill="#000"/>
<path d="M1176.9 1206 L1294.4 1237.5 L1294.4 1660.2 L1176.9 1628.7 Z" fill="#fff" stroke="#000" stroke-width="2.6" />
<path d="M1175.6 1204 L1295.7 1235.5 L1295.7 1240.5 L1175.6 1209 Z" fill="#000" stroke="none"/>
<path d="M1289.9 1234 L1295.7 1235.5 L1295.7 1661.5 L1289.9 1660 Z" fill="#000" stroke="none"/>
<circle cx="1289.1" cy="1271.6" r="3.0" fill="#000"/>
<circle cx="1289.1" cy="1387.9" r="3.0" fill="#000"/>
<circle cx="1289.1" cy="1503.6" r="3.0" fill="#000"/>
<circle cx="1289.1" cy="1620.9" r="3.0" fill="#000"/>
<circle cx="1179.2" cy="1242.1" r="3.0" fill="#000"/>
<path d="M1173.6 1305.7 L1240.2 1288.4 L1240.2 1726.5 L1173.6 1743.8 Z" fill="#fff" stroke="#000" stroke-width="2.6" />
<path d="M1172.3 1304.2 L1178.1 1302.8 L1178.1 1743.6 L1172.3 1745.1 Z" fill="#000" stroke="none"/>
<path d="M1172.3 1304.2 L1241.5 1286.9 L1241.5 1290.9 L1172.3 1308.6 Z" fill="#000" stroke="none"/>
</g>
<path d="M767.5 1219.6 L839 1223.1" stroke="#000" stroke-width="2.9" fill="none"/>
<path d="M836.9 1225.4 L853 1223.8 L837.1 1220.6 Z" fill="#000"/>
<circle cx="750.9" cy="1219.6" r="15.4" fill="#fff" stroke="#000" stroke-width="2.9"/>
<text transform="translate(750.9,1225.1) scale(1,1.035)" font-size="21" text-anchor="middle" fill="#000">1</text>
<path d="M767.5 1306.1 L850.8 1292.7" stroke="#000" stroke-width="2.9" fill="none"/>
<path d="M849.2 1295.4 L864.6 1290.5 L848.4 1290.7 Z" fill="#000"/>
<circle cx="750.9" cy="1308.7" r="15.4" fill="#fff" stroke="#000" stroke-width="2.9"/>
<text transform="translate(750.9,1314.2) scale(1,1.035)" font-size="21" text-anchor="middle" fill="#000">8</text>
<path d="M767.5 1449.7 L853.9 1463.1" stroke="#000" stroke-width="2.9" fill="none"/>
<path d="M851.5 1465.1 L867.7 1465.2 L852.3 1460.4 Z" fill="#000"/>
<circle cx="750.9" cy="1447.4" r="15.4" fill="#fff" stroke="#000" stroke-width="2.9"/>
<text transform="translate(750.9,1452.9) scale(1,1.035)" font-size="21" text-anchor="middle" fill="#000">9</text>
<text transform="translate(750.9,1491.3) scale(1,1.035)" font-size="22.5" text-anchor="middle" fill="#000">X 5</text>
<path d="M766.8 1695.1 L865.6 1733.5" stroke="#000" stroke-width="2.9" fill="none"/>
<path d="M862.8 1735 L878.6 1738.6 L864.6 1730.6 Z" fill="#000"/>
<circle cx="750.9" cy="1689.4" r="15.4" fill="#fff" stroke="#000" stroke-width="2.9"/>
<text transform="translate(750.9,1694.9) scale(1,1.035)" font-size="21" text-anchor="middle" fill="#000">7</text>
<path d="M911.8 1094.2 L998.4 1108.5" stroke="#000" stroke-width="2.9" fill="none"/>
<path d="M996 1110.6 L1012.2 1110.8 L996.8 1105.8 Z" fill="#000"/>
<circle cx="895.8" cy="1091.1" r="15.4" fill="#fff" stroke="#000" stroke-width="2.9"/>
<text transform="translate(895.8,1096.6) scale(1,1.035)" font-size="21" text-anchor="middle" fill="#000">3</text>
<text transform="translate(895.8,1130.3) scale(1,1.035)" font-size="22.5" text-anchor="middle" fill="#000">X 13</text>
<path d="M1161.2 1031.1 L1097.8 1067.5" stroke="#000" stroke-width="2.9" fill="none"/>
<path d="M1098.4 1064.4 L1085.7 1074.5 L1100.8 1068.6 Z" fill="#000"/>
<circle cx="1176.8" cy="1022.8" r="15.4" fill="#fff" stroke="#000" stroke-width="2.9"/>
<text transform="translate(1176.8,1028.3) scale(1,1.035)" font-size="21" text-anchor="middle" fill="#000">5</text>
<path d="M1161.2 1148.7 L1100.2 1179.9" stroke="#000" stroke-width="2.9" fill="none"/>
<path d="M1100.9 1176.9 L1087.7 1186.3 L1103 1181.1 Z" fill="#000"/>
<circle cx="1176.8" cy="1141.4" r="15.4" fill="#fff" stroke="#000" stroke-width="2.9"/>
<text transform="translate(1176.8,1146.9) scale(1,1.035)" font-size="21" text-anchor="middle" fill="#000">5</text>
<path d="M1335.4 1622.6 L1287.6 1599" stroke="#000" stroke-width="2.9" fill="none"/>
<path d="M1290.4 1597.7 L1275 1592.8 L1288.3 1602 Z" fill="#000"/>
<circle cx="1350" cy="1629.7" r="15.4" fill="#fff" stroke="#000" stroke-width="2.9"/>
<text transform="translate(1350,1635.2) scale(1,1.035)" font-size="21" text-anchor="middle" fill="#000">6</text>
<path d="M1334.6 1742.3 L1237 1700.1" stroke="#000" stroke-width="2.9" fill="none"/>
<path d="M1239.7 1698.7 L1224.1 1694.6 L1237.8 1703.1 Z" fill="#000"/>
<circle cx="1350" cy="1749.6" r="15.4" fill="#fff" stroke="#000" stroke-width="2.9"/>
<text transform="translate(1350,1755.1) scale(1,1.035)" font-size="21" text-anchor="middle" fill="#000">2</text>
<path d="M1155.8 1801.5 L1088 1753.7" stroke="#000" stroke-width="2.9" fill="none"/>
<path d="M1091.1 1752.9 L1076.6 1745.6 L1088.3 1756.8 Z" fill="#000"/>
<circle cx="1168.3" cy="1813.1" r="15.4" fill="#fff" stroke="#000" stroke-width="2.9"/>
<text transform="translate(1168.3,1818.6) scale(1,1.035)" font-size="21" text-anchor="middle" fill="#000">4</text>
<text transform="translate(1168.3,1860.8) scale(1,1.035)" font-size="22.5" text-anchor="middle" fill="#000">X 5</text>
</svg>
</body></html>
